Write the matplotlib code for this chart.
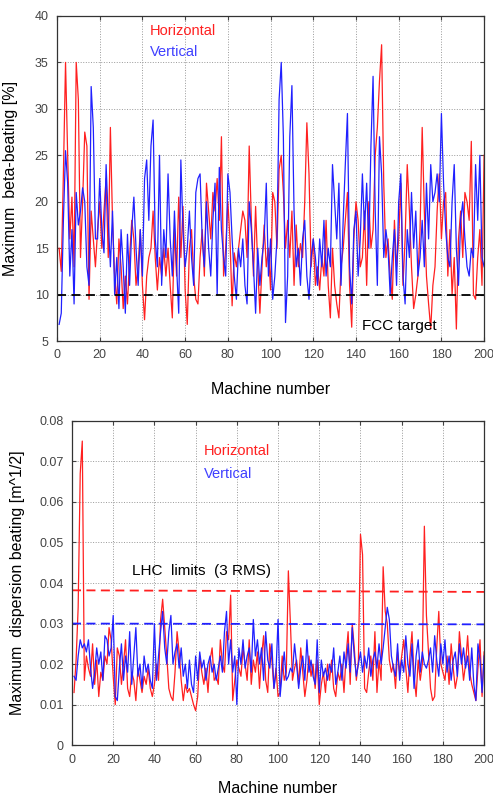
import numpy as np
import matplotlib
matplotlib.use("Agg")
import matplotlib.pyplot as plt

plt.rcParams['font.family'] = ['Liberation Sans', 'DejaVu Sans']

machines = list(range(1, 201))

beta_h = [15, 12.5, 23, 35, 25, 16, 20.5, 13, 35, 31,
          14, 20, 27.5, 26, 9.5, 19, 16, 13, 17, 20,
          15, 19, 22.5, 14, 28, 18, 12, 9, 16, 13,
          8.5, 12, 9, 14, 18, 16, 11, 13, 17, 11,
          7.3, 12, 14, 15, 19, 14, 10.5, 14, 12, 15,
          12, 15, 11, 7.5, 17, 12, 20.5, 14, 19.5, 10.5,
          6.8, 15, 17, 12, 9.5, 9, 14, 17, 12, 22,
          19, 16, 21, 19, 22.5, 18, 27, 12, 15, 20,
          16, 8.8, 14.5, 13, 15, 17, 19, 18, 14, 26,
          18, 12, 19.5, 13, 8, 13, 17.5, 13, 15, 10.5,
          21, 20, 15, 23.5, 25, 21, 15, 18, 14, 19,
          11, 17.5, 13, 15.5, 14, 20, 28.5, 23, 13, 16,
          11, 13, 10.5, 14, 12, 18, 11, 7.5, 15, 11,
          9, 7.5, 13, 15, 18, 21, 11, 6.5, 16, 20,
          18, 13, 14, 19, 11, 20, 15, 17, 25, 28,
          33, 36.9, 22, 14, 16, 12, 9.5, 18, 13, 16,
          22, 11, 16, 24, 19, 13, 8.5, 10, 12, 17,
          28, 19, 12, 9, 6.3, 11, 13, 19, 23, 16,
          20, 21, 12, 17, 10, 14, 6.3, 16, 19, 14,
          21, 20, 18, 26.5, 10, 9.5, 14, 17, 11, 25]

beta_v = [6.8, 8, 18, 25.5, 22, 12, 17, 9, 21, 17.5,
          19, 21.5, 20, 13, 11, 32.4, 28, 16, 16, 22.5,
          17, 14.5, 24, 18, 13, 19, 10, 14, 8.5, 17,
          13, 8, 16.5, 11, 17, 20.5, 15, 11, 17, 12,
          22.5, 24.5, 18, 26, 28.8, 16, 13, 25, 11, 17,
          14, 23, 16, 12, 19, 13, 8, 24.5, 17, 13,
          15, 19, 14, 11, 21, 22.5, 23, 16, 13, 20,
          15, 12, 18, 22, 10, 23.7, 17, 14, 12, 23,
          21, 16, 12, 9.5, 15, 13, 16, 11, 9, 20,
          17, 13, 8, 15, 11, 14, 16, 22, 12, 16,
          9.5, 12, 16, 31, 35, 27, 7, 12, 27, 32.5,
          19, 13, 15, 11, 16, 18, 12, 9.5, 14, 16,
          14, 11, 16, 13, 18, 12, 15, 13, 24, 20,
          16, 22, 11, 18, 24, 29.5, 13, 9, 17, 19,
          12, 16, 23, 17, 22, 15, 26, 33.5, 19, 11,
          27, 23, 14, 17, 15, 10, 14, 17, 11, 20,
          23, 12, 9, 17, 14, 21, 15, 19, 12, 14,
          18, 13, 22, 16, 24, 20, 21, 23, 20, 29.5,
          22, 17, 14, 13, 20, 24, 15, 11, 18, 20,
          16, 13, 12, 15, 14, 24, 18, 25, 14, 13]

disp_h = [.013, .021, .034, .067, .075, .016, .022, .019, .017, .025,
          .015, .021, .012, .018, .016, .022, .020, .029, .026, .017,
          .010, .024, .022, .015, .020, .026, .014, .012, .018, .016,
          .011, .019, .016, .013, .017, .015, .019, .014, .012, .015,
          .020, .016, .031, .036, .029, .022, .014, .012, .011, .018,
          .028, .023, .016, .011, .015, .013, .014, .012, .010, .0085,
          .012, .022, .018, .015, .019, .013, .021, .024, .016, .017,
          .015, .026, .020, .018, .028, .026, .037, .011, .016, .021,
          .019, .017, .024, .020, .016, .026, .015, .021, .018, .023,
          .014, .022, .027, .016, .013, .025, .021, .014, .019, .012,
          .013, .022, .016, .018, .043, .030, .016, .019, .021, .015,
          .024, .018, .012, .016, .022, .017, .020, .014, .021, .010,
          .015, .018, .013, .020, .016, .021, .014, .012, .018, .016,
          .020, .013, .022, .028, .015, .030, .024, .016, .021, .052,
          .047, .014, .013, .018, .022, .016, .028, .013, .021, .016,
          .044, .033, .030, .021, .018, .020, .014, .023, .018, .022,
          .026, .019, .013, .022, .028, .017, .012, .021, .016, .020,
          .054, .032, .023, .014, .011, .012, .024, .033, .020, .018,
          .016, .022, .015, .025, .019, .014, .017, .028, .022, .016,
          .020, .027, .018, .015, .013, .011, .019, .026, .012, .023]

disp_v = [.017, .016, .022, .026, .024, .025, .023, .026, .019, .014,
          .018, .024, .020, .023, .016, .027, .026, .022, .024, .032,
          .012, .011, .019, .025, .016, .022, .018, .028, .015, .022,
          .029, .017, .020, .014, .022, .018, .020, .016, .014, .030,
          .016, .022, .028, .033, .024, .020, .028, .032, .020, .023,
          .025, .019, .024, .017, .020, .014, .021, .015, .013, .022,
          .016, .023, .019, .021, .016, .020, .022, .018, .020, .016,
          .019, .022, .018, .028, .033, .020, .026, .018, .022, .010,
          .024, .020, .026, .019, .022, .024, .018, .031, .022, .026,
          .020, .024, .016, .028, .021, .019, .025, .014, .018, .031,
          .012, .018, .023, .016, .017, .019, .018, .025, .020, .014,
          .019, .022, .016, .026, .018, .021, .017, .015, .026, .013,
          .021, .017, .019, .016, .020, .018, .024, .015, .018, .022,
          .016, .023, .019, .025, .018, .029, .022, .017, .020, .023,
          .018, .022, .019, .024, .017, .021, .023, .019, .025, .020,
          .024, .029, .034, .031, .022, .019, .017, .025, .016, .021,
          .018, .027, .020, .017, .025, .014, .022, .026, .018, .023,
          .020, .019, .021, .024, .018, .027, .021, .017, .025, .020,
          .026, .018, .022, .016, .021, .023, .017, .025, .020, .024,
          .019, .022, .016, .024, .015, .011, .025, .021, .013, .022]

fcc_target = [10, 10]
lhc_limit_h = [0.0382, 0.0378]
lhc_limit_v = [0.0300, 0.0298]
limit_x = [0, 200]

fig = plt.figure(figsize=(4.93, 7.97), dpi=100)
ax1 = fig.add_axes([0.1156, 0.572, 0.8664, 0.408])
ax2 = fig.add_axes([0.146, 0.065, 0.836, 0.407])

tick_color = '#444444'
for ax in (ax1, ax2):
    ax.grid(True, color='#999999', linestyle=':', linewidth=0.7)
    ax.set_axisbelow(True)
    ax.tick_params(direction='in', length=3, colors='#444444', labelsize=9,
                   labelcolor=tick_color, pad=6, top=True, right=True)
    for s in ax.spines.values():
        s.set_color('#333333')
        s.set_linewidth(0.9)
    ax.set_xlim(0, 200)
    ax.set_xticks(range(0, 201, 20))

ax1.set_xlabel('Machine number', fontsize=11.5, labelpad=15)
ax2.set_xlabel('Machine number', fontsize=11.5, labelpad=11)

ax1.plot(machines, beta_h, color='#ff2020', lw=0.9)
ax1.plot(machines, beta_v, color='#2020ff', lw=0.9)
ax1.plot(limit_x, fcc_target, color='black', lw=1.3, ls=(0, (5, 3)))
ax1.set_ylim(5, 40)
ax1.set_yticks(range(5, 41, 5))
ax1.set_ylabel('Maximum  beta-beating [%]', fontsize=11.5, labelpad=12)
ax1.text(43.5, 38.4, 'Horizontal', color='#ff2020', fontsize=10.5, va='center')
ax1.text(43.5, 36.1, 'Vertical', color='#4040ff', fontsize=10.5, va='center')
ax1.text(143, 6.6, 'FCC target', color='black', fontsize=11, va='center')

ax2.plot(machines, disp_h, color='#ff2020', lw=0.9)
ax2.plot(machines, disp_v, color='#2020ff', lw=0.9)
ax2.plot(limit_x, lhc_limit_h, color='#ff2020', lw=1.3, ls=(0, (5, 3)))
ax2.plot(limit_x, lhc_limit_v, color='#2020ff', lw=1.3, ls=(0, (5, 3)))
ax2.set_ylim(0, 0.08)
ax2.set_yticks([0, 0.01, 0.02, 0.03, 0.04, 0.05, 0.06, 0.07, 0.08])
ax2.set_yticklabels(['0', '0.01', '0.02', '0.03', '0.04', '0.05', '0.06', '0.07', '0.08'])
ax2.set_ylabel('Maximum  dispersion beating [m^1/2]', fontsize=11.5, labelpad=10)
ax2.text(64, 0.0726, 'Horizontal', color='#ff2020', fontsize=10.5, va='center')
ax2.text(64, 0.0668, 'Vertical', color='#4040ff', fontsize=10.5, va='center')
ax2.text(29, 0.0430, 'LHC  limits  (3 RMS)', color='black', fontsize=11, va='center')

fig.savefig('out.png', dpi=100)
